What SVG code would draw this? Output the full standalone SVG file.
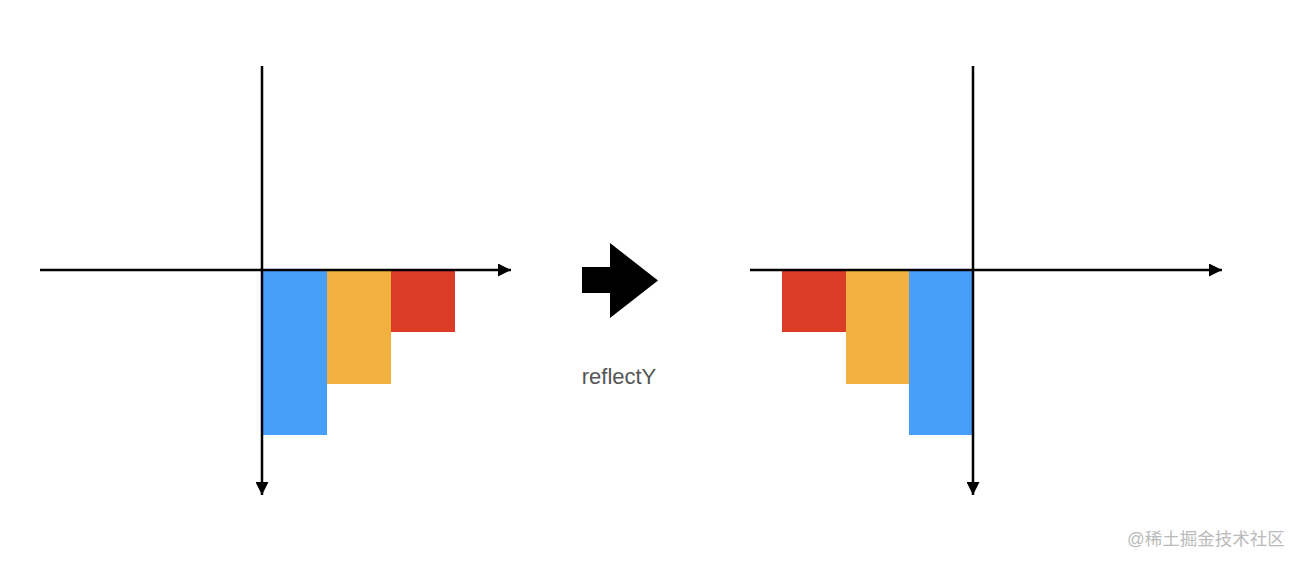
<svg xmlns="http://www.w3.org/2000/svg" width="1304" height="565" viewBox="0 0 1304 565">
<defs>
<style>
.axis{stroke:#000;stroke-width:2.5;fill:none}
.blue{fill:#479ffa}
.orange{fill:#f2b13e}
.red{fill:#db3c26}
.label{font-family:"Liberation Sans",Arial,sans-serif;font-size:22px;fill:#555;text-anchor:middle}
.wm{font-family:"Liberation Sans","Noto Sans CJK SC",sans-serif;font-size:17.5px;fill:#bbb}
</style>
<marker id="ah" viewBox="0 0 13 13" refX="13" refY="6.5" markerWidth="13" markerHeight="13" markerUnits="userSpaceOnUse" orient="auto">
<path d="M0,0 L13,6.5 L0,13 Z" fill="#000"/>
</marker>
</defs>
<rect width="1304" height="565" fill="#fff"/>
<g id="left-bars">
<rect class="blue" x="263" y="270" width="64" height="165"/>
<rect class="orange" x="327" y="270" width="64" height="114"/>
<rect class="red" x="391" y="270" width="64" height="62"/>
</g>
<g id="right-bars">
<rect class="red" x="782" y="270" width="64" height="62"/>
<rect class="orange" x="846" y="270" width="63" height="114"/>
<rect class="blue" x="909" y="270" width="64" height="165"/>
</g>
<g id="connectors">
<line class="axis" x1="40" y1="270" x2="511" y2="270" marker-end="url(#ah)"/>
<line class="axis" x1="262" y1="66" x2="262" y2="495" marker-end="url(#ah)"/>
<line class="axis" x1="750" y1="270" x2="1222" y2="270" marker-end="url(#ah)"/>
<line class="axis" x1="973" y1="66" x2="973" y2="495" marker-end="url(#ah)"/>
</g>
<g id="transform-arrow">
<path d="M582,267 L610,267 L610,243 L658,280.5 L610,318 L610,293 L582,293 Z" fill="#000"/>
<text class="label" x="619" y="384">reflectY</text>
</g>
<text class="wm" x="1127" y="545">@稀土掘金技术社区</text>
</svg>
